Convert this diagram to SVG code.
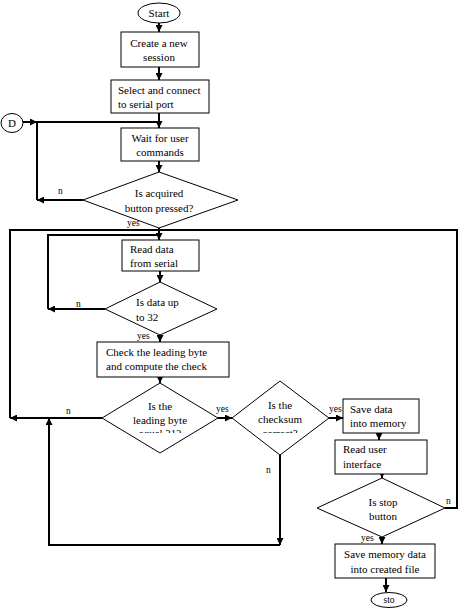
<svg xmlns="http://www.w3.org/2000/svg" width="464" height="609" viewBox="0 0 464 609" font-family="'Liberation Serif', 'Times New Roman', serif">
<style>
.s{fill:#fff;stroke:#000;stroke-width:1}
.c{fill:none;stroke:#000;stroke-width:2}
text{font-family:"Liberation Serif","Times New Roman",serif;font-size:11px;fill:#000}
.m{text-anchor:middle}
.l{font-size:9.5px}
</style>
<defs>
<marker id="a" viewBox="0 0 8 8" refX="8" refY="4" markerWidth="7" markerHeight="7" markerUnits="userSpaceOnUse" orient="auto">
<path d="M0,0 L8,4 L0,8 Z" fill="#000"/>
</marker>
<clipPath id="k1"><rect x="100" y="380" width="120" height="53"/></clipPath>
<clipPath id="k2"><rect x="230" y="380" width="100" height="53"/></clipPath>
</defs>
<g id="connectors">
<path class="c" d="M159,23 V32" marker-end="url(#a)"/>
<path class="c" d="M159,67 V80" marker-end="url(#a)"/>
<path class="c" d="M159,113 V128" marker-end="url(#a)"/>
<path class="c" d="M23,122 H37" marker-end="url(#a)"/>
<path class="c" d="M37,200 V122 H159"/>
<path class="c" d="M159,161 V172" marker-end="url(#a)"/>
<path class="c" d="M83,200 H37" marker-end="url(#a)"/>
<path class="c" d="M159,228 V240" marker-end="url(#a)"/>
<path class="c" d="M102,418 H10" marker-end="url(#a)"/>
<path class="c" d="M10,418 V230 H457 V508 H445"/>
<path class="c" d="M105,309 H48" marker-end="url(#a)"/>
<path class="c" d="M48,309 V235 H159"/>
<path class="c" d="M160,270 V282" marker-end="url(#a)"/>
<path class="c" d="M160,335 V342" marker-end="url(#a)"/>
<path class="c" d="M160,377 V383" marker-end="url(#a)"/>
<path class="c" d="M218,418 H232" marker-end="url(#a)"/>
<path class="c" d="M329,418 H343" marker-end="url(#a)"/>
<path class="c" d="M280,455 V545" marker-end="url(#a)"/>
<path class="c" d="M280,545 H49 V418" marker-end="url(#a)"/>
<path class="c" d="M379,433 V440" marker-end="url(#a)"/>
<path class="c" d="M382,474 V478" marker-end="url(#a)"/>
<path class="c" d="M382,537 V544" marker-end="url(#a)"/>
<path class="c" d="M386,578 V592" marker-end="url(#a)"/>
<text x="58" y="194" class="l">n</text>
<text x="127" y="226" class="l">yes</text>
<text x="76" y="307" class="l">n</text>
<text x="137" y="339" class="l">yes</text>
<text x="66" y="414" class="l">n</text>
<text x="216" y="412" class="l">yes</text>
<text x="329" y="412" class="l">yes</text>
<text x="266" y="473" class="l">n</text>
<text x="446" y="504" class="l">n</text>
<text x="361" y="541" class="l">yes</text>
</g>
<g id="start"><ellipse class="s" cx="159" cy="13" rx="21" ry="10"/><text x="159" y="17" class="m">Start</text></g>
<g id="create"><rect class="s" x="121" y="32" width="78" height="35"/><text x="159" y="47" class="m">Create a new</text><text x="159" y="61" class="m">session</text></g>
<g id="select"><rect class="s" x="111" y="80" width="98" height="33"/><text x="118" y="94">Select and connect</text><text x="118" y="108">to serial port</text></g>
<g id="d"><ellipse class="s" cx="12" cy="123" rx="11" ry="9.5"/><text x="12" y="127" class="m">D</text></g>
<g id="wait"><rect class="s" x="121" y="128" width="78" height="33"/><text x="160" y="142" class="m">Wait for user</text><text x="160" y="156" class="m">commands</text></g>
<g id="acquired"><polygon class="s" points="83,200 159,172 238,200 159,228"/><text x="159" y="197" class="m">Is acquired</text><text x="159" y="212" class="m">button pressed?</text></g>
<g id="read"><rect class="s" x="122" y="240" width="77" height="31"/><text x="130" y="253">Read data</text><text x="130" y="267">from serial</text></g>
<g id="upto32"><polygon class="s" points="105,309 160,282 217,309 160,335"/><text x="136" y="306">Is data up</text><text x="136" y="321">to 32</text></g>
<g id="check"><rect class="s" x="97" y="342" width="132" height="35"/><text x="106" y="356">Check the leading byte</text><text x="106" y="370">and compute the check</text></g>
<g id="leading"><polygon class="s" points="102,418 160,383 218,418 160,453"/><g clip-path="url(#k1)"><text x="160" y="410" class="m">Is the</text><text x="160" y="424" class="m">leading byte</text><text x="160" y="436.5" class="m">equal 31?</text></g></g>
<g id="checksum"><polygon class="s" points="232,418 280,381 329,418 280,455"/><g clip-path="url(#k2)"><text x="280" y="409" class="m">Is the</text><text x="280" y="423" class="m">checksum</text><text x="280" y="436.5" class="m">correct?</text></g></g>
<g id="save"><rect class="s" x="343" y="399" width="76" height="34"/><text x="350" y="413">Save data</text><text x="350" y="427">into memory</text></g>
<g id="readui"><rect class="s" x="335" y="440" width="92" height="34"/><text x="343" y="453">Read user</text><text x="343" y="468">interface</text></g>
<g id="stop"><polygon class="s" points="317,508 382,478 445,508 382,537"/><text x="383" y="506" class="m">Is stop</text><text x="383" y="520" class="m">button</text></g>
<g id="savefile"><rect class="s" x="335" y="544" width="100" height="34"/><text x="385" y="558" class="m">Save memory data</text><text x="385" y="573" class="m">into created file</text></g>
<g id="sto"><ellipse class="s" cx="389" cy="600" rx="18" ry="7.5"/><text x="389" y="603" class="m" style="font-size:9.5px">sto</text></g>
</svg>
